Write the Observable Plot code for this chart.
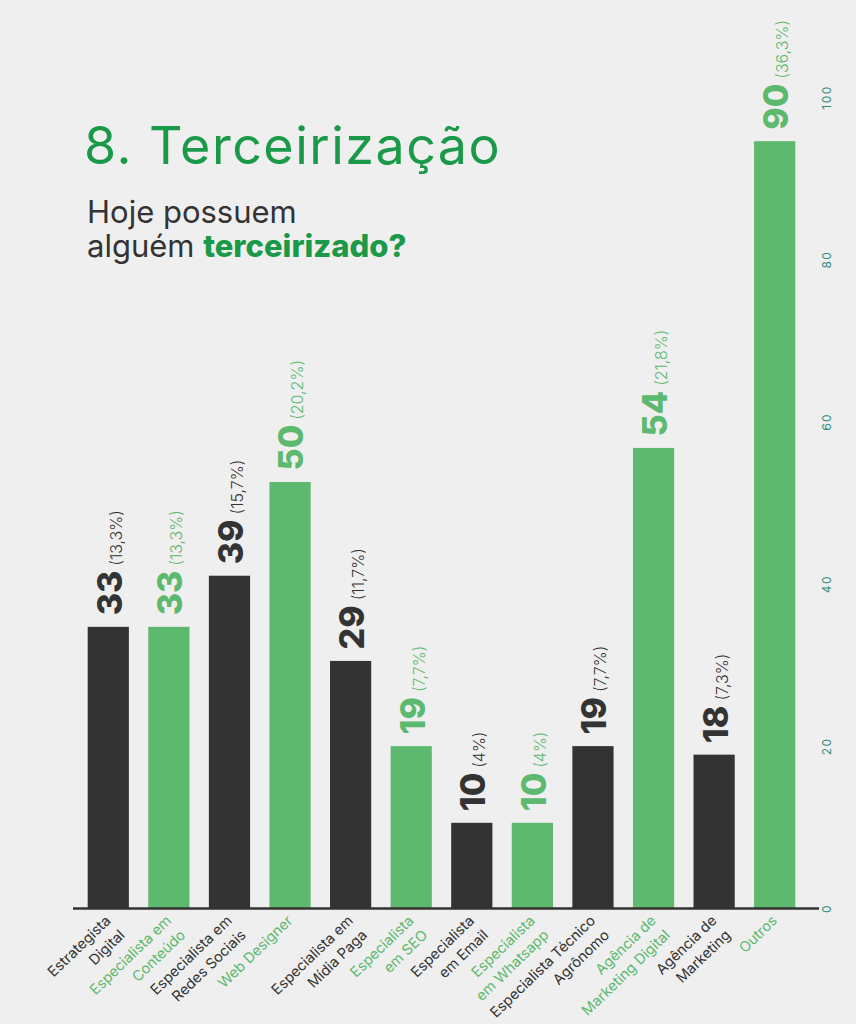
<!DOCTYPE html>
<html><head><meta charset="utf-8">
<script src="https://cdn.jsdelivr.net/npm/d3@7"></script>
<script src="https://cdn.jsdelivr.net/npm/@observablehq/plot@0.6"></script>
<style>
html,body{margin:0;padding:0;background:#efefef;}
#wrap{position:relative;width:856px;height:1024px;overflow:hidden;}
#wrap svg{position:absolute;left:0;top:0;}
.title{position:absolute;left:84px;top:120px;font-family:Inter,sans-serif;font-size:52px;letter-spacing:1.5px;color:#1a9a48;line-height:1;white-space:nowrap;}
.sub{position:absolute;left:87px;top:195px;font-family:Inter,sans-serif;font-size:31px;line-height:34px;color:#333;white-space:nowrap;}
.sub b{color:#1a9a48;font-weight:800;}
.pct{font-weight:300;}
.tick{letter-spacing:1.5px;}
</style>
</head><body>
<div id="wrap">
  <div class="title">8. Terceirização</div>
  <div class="sub">Hoje possuem<br>alguém <b>terceirizado?</b></div>
</div>
<script>
const categories = ["Estrategista\nDigital", "Especialista em\nConteúdo", "Especialista em\nRedes Sociais", "Web Designer", "Especialista em\nMídia Paga", "Especialista\nem SEO", "Especialista\nem Email", "Especialista\nem Whatsapp", "Especialista Técnico\nAgrônomo", "Agência de\nMarketing Digital", "Agência de\nMarketing", "Outros"];
const values = [33, 33, 39, 50, 29, 19, 10, 10, 19, 54, 18, 90];
const percents = ["13,3", "13,3", "15,7", "20,2", "11,7", "7,7", "4", "4", "7,7", "21,8", "7,3", "36,3"];
const tones = ["dark", "green", "dark", "green", "dark", "green", "dark", "green", "dark", "green", "dark", "green"];
const axisTicks = [0, 20, 40, 60, 80, 100];
// the infographic's printed axis runs about 5% shorter than its bars
const axisStretch = 0.952;
const palette = {dark: "#333333", green: "#5cb96d"};

const data = categories.map((c, i) => ({category: c, value: values[i], pct: percents[i], tone: tones[i]}));

const chart = Plot.plot({
  width: 856, height: 1024,
  marginTop: 56, marginBottom: 116, marginLeft: 78, marginRight: 51,
  style: {background: "transparent", fontFamily: "Inter, sans-serif"},
  x: {domain: categories, paddingInner: 0.32, paddingOuter: 0.16, round: false, axis: null},
  y: {domain: [0, 100], axis: null},
  color: {domain: ["dark", "green"], range: [palette.dark, palette.green]},
  marks: [
    Plot.barY(data, {x: "category", y: "value", fill: "tone"}),
    Plot.ruleY([0], {stroke: "#333", strokeWidth: 2.5, insetLeft: -5, insetRight: -14}),
    Plot.text(data, {x: "category", y: "value", text: d => `${d.value} (${d.pct}%)`, fill: "tone",
      rotate: -90, textAnchor: "start", lineAnchor: "middle", dy: -12, dx: 2, fontSize: 34, fontWeight: 800}),
    Plot.text(data, {x: "category", y: 0, text: "category", fill: "tone",
      rotate: -44, textAnchor: "end", lineAnchor: "top", lineHeight: 1.38, dx: -7, dy: 3, fontSize: 14.5}),
    Plot.text(axisTicks, {y: d => d * axisStretch, text: d => String(d), frameAnchor: "right",
      dx: 22, rotate: -90, textAnchor: "middle", lineAnchor: "middle", fill: "#2e8a78", fontSize: 12})
  ]
});

const ns = "http://www.w3.org/2000/svg";
chart.querySelectorAll("text").forEach(t => {
  if (/^\d+$/.test(t.textContent) && t.getAttribute("fill") === null) t.classList.add("tick");
  const m = t.textContent.match(/^(\d+) \((.+)\)$/);
  if (!m) return;
  t.textContent = "";
  const a = document.createElementNS(ns, "tspan");
  a.textContent = m[1];
  const b = document.createElementNS(ns, "tspan");
  b.textContent = `(${m[2]})`;
  b.setAttribute("dx", "5");
  b.setAttribute("font-size", "16");
  b.setAttribute("class", "pct");
  t.appendChild(a); t.appendChild(b);
});

document.getElementById("wrap").prepend(chart);
</script>
</body></html>
